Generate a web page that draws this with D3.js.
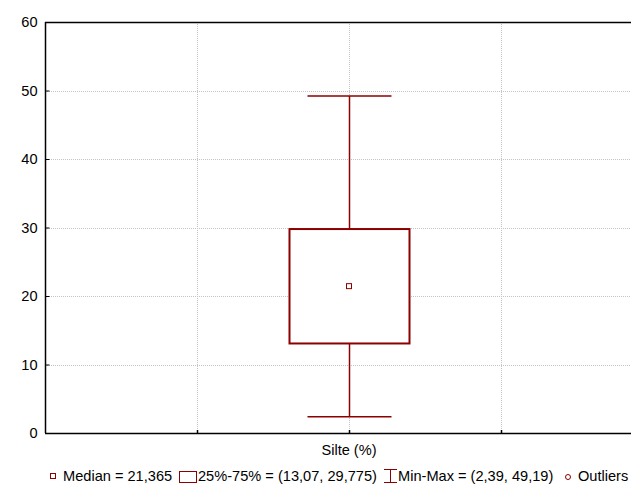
<!DOCTYPE html>
<html>
<head>
<meta charset="utf-8">
<script src="https://cdn.jsdelivr.net/npm/d3@7"></script>
<style>
body { margin: 0; background: #fff; }
text { font-family: "Liberation Sans", Arial, sans-serif; }
</style>
</head>
<body>
<script>
// data
var categories = ['Silte (%)'];
var medians = [21.365];
var q1 = [13.07];
var q3 = [29.775];
var mins = [2.39];
var maxs = [49.19];
var yTicks = [0, 10, 20, 30, 40, 50, 60];
var legendLabels = ['Median = 21,365', '25%-75% = (13,07, 29,775)', 'Min-Max = (2,39, 49,19)', 'Outliers'];

var col = '#8b0000';
var fs = 14.6;

var svg = d3.select('body').append('svg')
    .attr('width', 631)
    .attr('height', 484);

var pLeft = 45, pTop = 22, pBottom = 433, pRight = 653;

var y = d3.scaleLinear().domain([0, 60]).range([pBottom, pTop]);
// gridlines at quarters of the plot width
var xq = d3.scaleLinear().domain([0, 4]).range([pLeft, pRight]);

// horizontal grid
svg.selectAll('.hgrid').data(yTicks.slice(1, -1)).enter().append('line')
    .attr('x1', pLeft).attr('x2', pRight)
    .attr('y1', function(d) { return Math.round(y(d)) + 0.5; }).attr('y2', function(d) { return Math.round(y(d)) + 0.5; })
    .attr('stroke', '#c4c4c4').attr('stroke-width', 1).attr('stroke-dasharray', '1,1');

// vertical grid
svg.selectAll('.vgrid').data([1, 2, 3]).enter().append('line')
    .attr('x1', function(d) { return Math.round(xq(d)) + 0.5; }).attr('x2', function(d) { return Math.round(xq(d)) + 0.5; })
    .attr('y1', pTop).attr('y2', pBottom)
    .attr('stroke', '#c4c4c4').attr('stroke-width', 1).attr('stroke-dasharray', '1,1');

// frame
svg.append('line').attr('x1', pLeft).attr('x2', pRight).attr('y1', pTop + 0.5).attr('y2', pTop + 0.5)
    .attr('stroke', '#000').attr('stroke-width', 1.5);
svg.append('line').attr('x1', pLeft + 0.5).attr('x2', pLeft + 0.5).attr('y1', pTop).attr('y2', pBottom)
    .attr('stroke', '#000').attr('stroke-width', 1.5);
svg.append('line').attr('x1', pLeft).attr('x2', pRight).attr('y1', pBottom + 0.5).attr('y2', pBottom + 0.5)
    .attr('stroke', '#000').attr('stroke-width', 1.5);

// y axis
var yAxis = d3.axisLeft(y).tickValues(yTicks).tickSize(-4).tickPadding(8).tickFormat(d3.format('d'));
var gy = svg.append('g').attr('transform', 'translate(' + (pLeft + 0.5) + ',0)').call(yAxis);
gy.select('.domain').remove();
gy.selectAll('text').attr('font-size', fs).attr('fill', '#000').attr('font-family', '"Liberation Sans", Arial, sans-serif');
gy.selectAll('line').attr('stroke', '#000');

// x ticks
svg.selectAll('.xt').data([1, 2, 3]).enter().append('line')
    .attr('x1', function(d) { return Math.round(xq(d)) + 0.5; }).attr('x2', function(d) { return Math.round(xq(d)) + 0.5; })
    .attr('y1', pBottom).attr('y2', pBottom - 3)
    .attr('stroke', '#000').attr('stroke-width', 1.5);

svg.append('text').attr('x', xq(2)).attr('y', 455).attr('text-anchor', 'middle')
    .attr('font-size', fs).text(categories[0]);

// box plot
var cx = Math.round(xq(2)) + 0.5;
var boxW = 120, capW = 84;
categories.forEach(function(c, i) {
    svg.append('line').attr('x1', cx).attr('x2', cx).attr('y1', y(maxs[i])).attr('y2', y(q3[i]))
        .attr('stroke', col).attr('stroke-width', 1.5);
    svg.append('line').attr('x1', cx).attr('x2', cx).attr('y1', y(q1[i])).attr('y2', y(mins[i]))
        .attr('stroke', col).attr('stroke-width', 1.5);
    svg.append('line').attr('x1', cx - capW / 2).attr('x2', cx + capW / 2).attr('y1', y(maxs[i])).attr('y2', y(maxs[i]))
        .attr('stroke', col).attr('stroke-width', 1.5);
    svg.append('line').attr('x1', cx - capW / 2).attr('x2', cx + capW / 2).attr('y1', y(mins[i])).attr('y2', y(mins[i]))
        .attr('stroke', col).attr('stroke-width', 1.5);
    svg.append('rect').attr('x', cx - boxW / 2).attr('y', y(q3[i])).attr('width', boxW).attr('height', y(q1[i]) - y(q3[i]))
        .attr('fill', '#fff').attr('stroke', col).attr('stroke-width', 2);
    svg.append('rect').attr('x', cx - 3).attr('y', y(medians[i]) - 3).attr('width', 5).attr('height', 5)
        .attr('fill', '#fff').attr('stroke', col).attr('stroke-width', 1);
});

// legend
var ly = 476;
svg.append('rect').attr('x', 50.5).attr('y', 473.5).attr('width', 5).attr('height', 5)
    .attr('fill', '#fff').attr('stroke', col).attr('stroke-width', 1);
svg.append('text').attr('x', 63).attr('y', ly + 5).attr('font-size', fs).text(legendLabels[0]);

svg.append('rect').attr('x', 179.5).attr('y', 471.5).attr('width', 17).attr('height', 11)
    .attr('fill', '#fff').attr('stroke', col).attr('stroke-width', 1);
svg.append('text').attr('x', 198).attr('y', ly + 5).attr('font-size', fs).text(legendLabels[1]);

svg.append('line').attr('x1', 384).attr('x2', 397).attr('y1', 469.5).attr('y2', 469.5).attr('stroke', col).attr('stroke-width', 1);
svg.append('line').attr('x1', 384).attr('x2', 397).attr('y1', 482.5).attr('y2', 482.5).attr('stroke', col).attr('stroke-width', 1);
svg.append('line').attr('x1', 390.5).attr('x2', 390.5).attr('y1', 469.5).attr('y2', 482.5).attr('stroke', col).attr('stroke-width', 1);
svg.append('text').attr('x', 398).attr('y', ly + 5).attr('font-size', fs).text(legendLabels[2]);

svg.append('circle').attr('cx', 568).attr('cy', 477).attr('r', 2.5)
    .attr('fill', '#fff').attr('stroke', col).attr('stroke-width', 1);
svg.append('text').attr('x', 578).attr('y', ly + 5).attr('font-size', fs).text(legendLabels[3]);
</script>
</body>
</html>
